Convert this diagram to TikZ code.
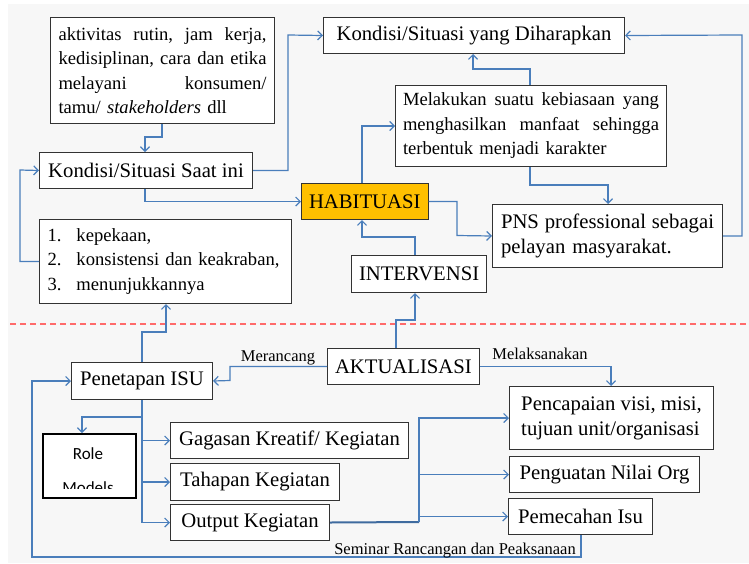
\documentclass[tikz,border=0pt]{standalone}
\usepackage{fontspec}
\setmainfont{Liberation Serif}
\newfontfamily\calib{Carlito}
\usetikzlibrary{arrows.meta}
\definecolor{lnblue}{HTML}{4A7EBB}
\definecolor{habit}{HTML}{FFC000}
\definecolor{bgc}{HTML}{F7F7F7}
\definecolor{dashred}{HTML}{FF6B6B}
\newcommand{\fbig}{\fontsize{20.7}{25}\selectfont}
\newcommand{\fmed}{\fontsize{18.6}{24.5}\selectfont}
\newcommand{\fsml}{\fontsize{16.5}{19}\selectfont}
\tikzset{
  box/.style={draw=black!80, line width=1pt, fill=white, anchor=north west, inner xsep=7.5pt, inner ysep=0pt, align=left},
  conn/.style={draw=lnblue, line width=1.2pt, -{Straight Barb[length=4.5pt,width=9pt]}},
  plain/.style={draw=lnblue, line width=1.2pt},
  lbl/.style={inner sep=0pt, font=\fsml}
}
\begin{document}
\begin{tikzpicture}[x=1pt,y=-1pt]
\useasboundingbox (0,0) rectangle (749,563);
\fill[white] (0,0) rectangle (749,563);
\fill[bgc] (8,4) rectangle (749,563);

% top section boxes
\node[box, minimum width=224pt, minimum height=106pt, text width=208pt, font=\fmed] (topbox) at (50,17)
 {aktivitas\hfill rutin,\hfill jam\hfill kerja,\\
  kedisiplinan,\hfill cara\hfill dan\hfill etika\\
  melayani\hfill konsumen/\\
  tamu/ \textit{stakeholders} dll};
\node[box, minimum width=213pt, minimum height=36pt, font=\fbig] (kond) at (39,152) {Kondisi/Situasi Saat ini};
\node[box, minimum width=301pt, minimum height=36pt, font=\fbig] (harap) at (323,17) {Kondisi/Situasi yang Diharapkan};
\node[box, minimum width=271pt, minimum height=81pt, text width=256pt, font=\fmed] (melak) at (395,85)
 {Melakukan\hfill suatu\hfill kebiasaan\hfill yang\\
  menghasilkan\hfill manfaat\hfill sehingga\\
  terbentuk menjadi karakter};
\node[box, fill=habit, minimum width=120pt, minimum height=36pt, font=\fbig, align=center] (habit) at (301,183) {HABITUASI};
\node[box, minimum width=230pt, minimum height=63pt, text width=213pt, font=\fbig] (pns) at (492,204)
 {PNS\hfill professional\hfill sebagai\\ pelayan masyarakat.};
\node[box, minimum width=252pt, minimum height=84pt, text width=236pt, font=\fmed] (list) at (39,219)
 {\makebox[29pt][l]{1.}kepekaan,\\
  \makebox[29pt][l]{2.}konsistensi dan keakraban,\\
  \makebox[29pt][l]{3.}menunjukkannya};
\node[box, minimum width=127pt, minimum height=37pt, font=\fbig, align=center] (interv) at (351,255) {INTERVENSI};

% separator
\draw[dashred, line width=1.1pt, dash pattern=on 6pt off 4pt] (10,324) -- (749,324);

% bottom section boxes
\node[box, minimum width=141pt, minimum height=37pt, font=\fbig] (penet) at (71,362) {Penetapan ISU};
\node[box, minimum width=139pt, minimum height=36pt, font=\fbig] (aktual) at (327,348) {AKTUALISASI};
\node[box, minimum width=238pt, minimum height=36pt, font=\fbig] (gagasan) at (170,422) {Gagasan Kreatif/ Kegiatan};
\node[box, minimum width=169pt, minimum height=37pt, font=\fbig] (tahapan) at (170,463) {Tahapan Kegiatan};
\node[box, minimum width=159pt, minimum height=36pt, font=\fbig] (output) at (170,504) {Output Kegiatan};
\node[box, minimum width=204pt, minimum height=63pt, font=\fbig] (pencap) at (509,386) {Pencapaian visi, misi,\\ tujuan unit/organisasi};
\node[box, minimum width=190pt, minimum height=36pt, font=\fbig] (penguat) at (509,456) {Penguatan Nilai Org};
\node[box, minimum width=144pt, minimum height=36pt, font=\fbig] (pemec) at (508,498) {Pemecahan Isu};

% Role Models box
\node[draw=black, line width=2pt, fill=white, anchor=north west, minimum width=93pt, minimum height=64pt, inner sep=0pt] (role) at (42,433) {};
\begin{scope}
  \clip (44,435) rectangle (133,488);
  \node[anchor=base, inner sep=0pt, font=\calib\fontsize{17}{20}\selectfont] (roletxt) at (88,459) {Role};
  \node[anchor=base, inner sep=0pt, font=\calib\fontsize{17}{20}\selectfont] (modtxt) at (88,493) {Models};
\end{scope}

% connectors, top section
\draw[conn] ([xshift=112pt]topbox.south west) |- (145,137) -- ([xshift=106pt]kond.north west);
\draw[conn] (kond.east) -| (288,35) -- (harap.west);
\draw[conn] ([xshift=106pt]kond.south west) |- (habit.west);
\draw[conn] (list.west) -| (20,170) -- (kond.west);
\draw[conn] ([xshift=61pt]habit.north west) |- (melak.west);
\draw[conn] ([xshift=135pt]melak.north west) |- (473,69) -- ([xshift=150pt]harap.south west);
\draw[conn] ([xshift=135pt]melak.south west) |- (608,185) -- ([xshift=116pt]pns.north west);
\draw[conn] (habit.east) -| (457,235.5) -- (pns.west);
\draw[conn] (pns.east) -| (742,35) -- (harap.east);
\draw[conn] ([xshift=64pt]interv.north west) |- (362,237) -- ([xshift=61pt]habit.south west);

% connectors crossing the separator
\draw[conn] ([xshift=69pt]aktual.north west) |- (415,320) -- ([xshift=64pt]interv.south west);
\draw[conn] ([xshift=71pt]penet.north west) |- (166,332) -- ([xshift=127pt]list.south west);

% bottom section connectors
\draw[conn] (aktual.west) -| (230,380.5) -- (penet.east);
\node[lbl, anchor=base] (merancang) at (278,361) {Merancang};
\draw[conn] (aktual.east) -| ([xshift=102pt]pencap.north west);
\node[lbl, anchor=base] (melaks) at (540,359) {Melaksanakan};

\coordinate (trunk) at ([xshift=71pt]penet.south west);
\draw[conn] (trunk) |- (82,417) -- ([xshift=40pt]role.north west);
\draw[conn] (trunk) |- (output.west);
\draw[conn] (trunk |- gagasan.west) -- (gagasan.west);
\draw[conn] (trunk |- tahapan.west) -- (tahapan.west);

\coordinate (hub) at (419,522);
\draw[draw=lnblue!85!black, line width=2pt] (output.east) -- (hub);
\draw[conn] (hub) |- (pencap.west);
\draw[conn] (hub |- penguat.west) -- (penguat.west);
\draw[conn] (hub |- pemec.west) -- (pemec.west);

\draw[conn] ([xshift=73pt]pemec.south west) |- (32,557) |- (penet.west);
\node[lbl, anchor=base] (seminar) at (455,554) {Seminar Rancangan dan Peaksanaan};
\end{tikzpicture}
\end{document}
